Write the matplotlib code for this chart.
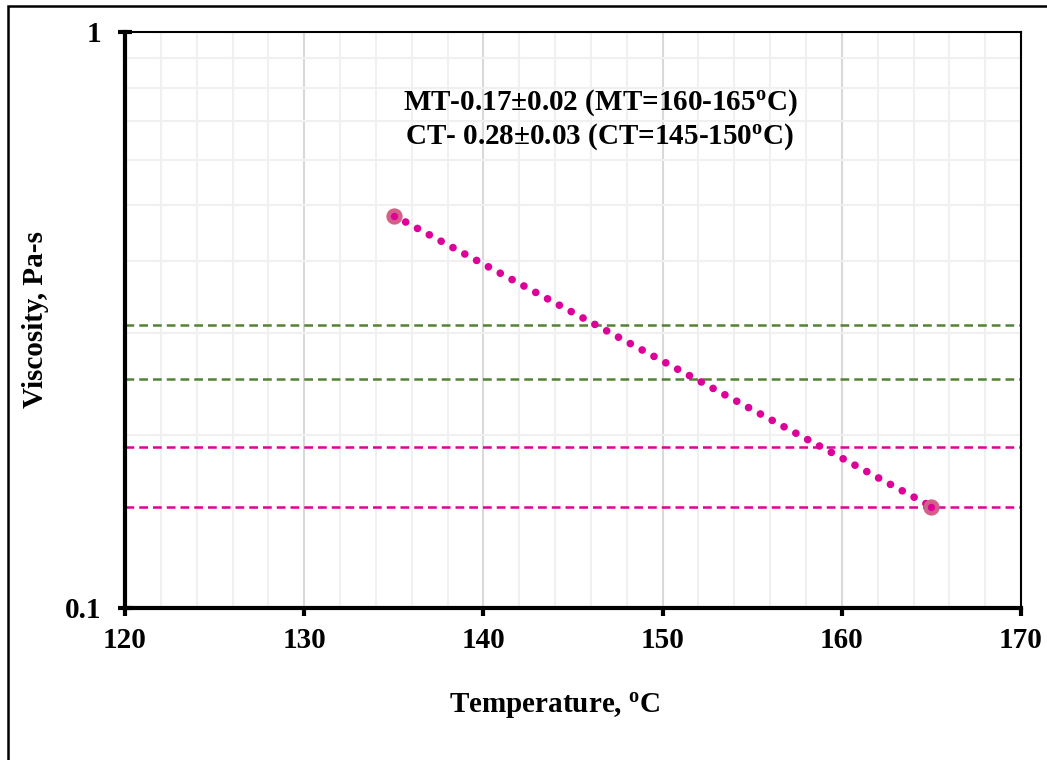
import matplotlib
matplotlib.use("Agg")
import matplotlib.pyplot as plt
from matplotlib.patches import Rectangle
from matplotlib.ticker import FixedLocator, NullFormatter

plt.rcParams['font.family'] = ['Liberation Serif', 'DejaVu Serif']
plt.rcParams['font.weight'] = 'bold'
plt.rcParams['mathtext.fontset'] = 'custom'
plt.rcParams['mathtext.rm'] = 'Liberation Serif:bold'
plt.rcParams['mathtext.bf'] = 'Liberation Serif:bold'
plt.rcParams['mathtext.it'] = 'Liberation Serif:bold'

# data
temps = [135, 165]
viscosity = [0.48, 0.15]
ct_band = [0.31, 0.25]   # CT 0.28 +/- 0.03
mt_band = [0.19, 0.15]   # MT 0.17 +/- 0.02
x_ticks = [120, 130, 140, 150, 160, 170]
y_ticks = [0.1, 1]
y_tick_labels = ['0.1', '1']

pink = '#dd0099'
green = '#548235'

fig = plt.figure(figsize=(10.47, 7.6), dpi=100)
ax = fig.add_axes([0.1194, 0.2, 0.8558, 0.7579])

ax.set_yscale('log')
ax.set_xlim(120, 170)
ax.set_ylim(0.1, 1)

# grid
ax.xaxis.set_major_locator(FixedLocator(x_ticks))
ax.xaxis.set_minor_locator(FixedLocator([v for v in range(120, 171, 2) if v % 10]))
ax.yaxis.set_major_locator(FixedLocator(y_ticks))
ax.yaxis.set_minor_locator(FixedLocator([0.2, 0.3, 0.4, 0.5, 0.6, 0.7, 0.8, 0.9]))
ax.yaxis.set_minor_formatter(NullFormatter())
ax.set_yticklabels(y_tick_labels)
ax.grid(which='major', axis='x', color='#d9d9d9', lw=1.5)
ax.grid(which='minor', color='#f0f0f0', lw=1.5)
ax.set_axisbelow(True)

for v in ct_band:
    ax.axhline(v, color=green, lw=1.8, ls=(0, (3.5, 2)), zorder=2)
for v in mt_band:
    ax.axhline(v, color=pink, lw=1.8, ls=(0, (3.5, 2)), zorder=2)

# dotted trend between the two measured points
ax.plot(temps, viscosity, color=pink, lw=5.5, ls=(0, (0.01, 1.75)),
        dash_capstyle='round', zorder=3)
ax.plot(temps, viscosity, ls='none', marker='o', ms=8.5, mew=3.2,
        mfc=pink, mec='#d4608a', zorder=4)

ax.text(0.53, 0.877, 'MT-0.17\u00b10.02 (MT=160-165$^{\\mathrm{o}}$C)',
        transform=ax.transAxes, ha='center', va='center', fontsize=21, fontweight='bold')
ax.text(0.53, 0.818, 'CT- 0.28\u00b10.03 (CT=145-150$^{\\mathrm{o}}$C)',
        transform=ax.transAxes, ha='center', va='center', fontsize=21, fontweight='bold')

# spines and ticks
ax.spines['left'].set_linewidth(3)
ax.spines['bottom'].set_linewidth(3)
ax.spines['top'].set_linewidth(1.5)
ax.spines['right'].set_linewidth(1.5)
ax.tick_params(axis='x', which='major', direction='out', length=6, width=3,
               labelsize=21, pad=8)
ax.tick_params(axis='y', which='major', direction='inout', length=10, width=3,
               labelsize=21, pad=12)
ax.tick_params(which='minor', length=0)

ax.set_xlabel('Temperature, $^{\\mathrm{o}}$C', fontsize=21, fontweight='bold')
ax.set_ylabel('Viscosity, Pa-s', fontsize=21, fontweight='bold')
ax.xaxis.set_label_coords(0.48, -0.17)
ax.yaxis.set_label_coords(-0.1, 0.5)
ax.xaxis.label.set_va('center')
ax.yaxis.label.set_va('center')

# outer chart border
fig.add_artist(Rectangle((8 / 1047, -0.1), 1.2, 0.992 + 0.1,
                         transform=fig.transFigure, fill=False, lw=1.8, ec='black'))

fig.savefig('out.png', dpi=100)
